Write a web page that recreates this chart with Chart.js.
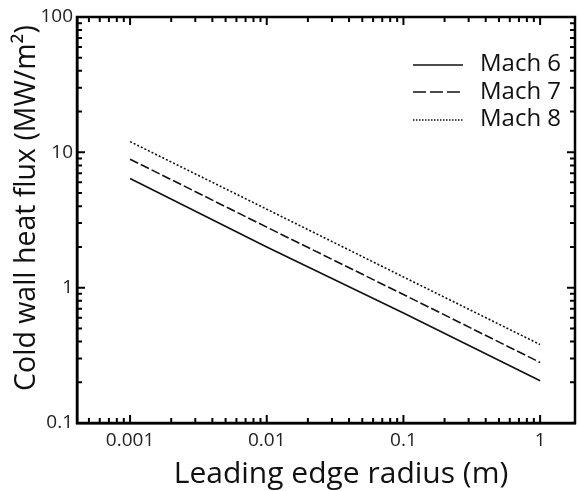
<!DOCTYPE html>
<html>
<head>
<meta charset="utf-8">
<script src="https://cdn.jsdelivr.net/npm/chart.js@4"></script>
<style>
html,body{margin:0;padding:0;background:#fff;}
#wrap{width:579px;height:491px;position:relative;}
</style>
</head>
<body>
<div id="wrap"><canvas id="c" width="579" height="491"></canvas></div>
<script>
// Data
const radius = [0.001, 0.01, 0.1, 1];
const mach6 = [6.4, 2.0, 0.65, 0.205];
const mach7 = [8.9, 2.8, 0.89, 0.28];
const mach8 = [12.0, 3.8, 1.2, 0.38];
const seriesNames = ['Mach 6', 'Mach 7', 'Mach 8'];
const xTickValues = [0.001, 0.01, 0.1, 1];
const xTickLabels = ['0.001', '0.01', '0.1', '1'];
const yTickValues = [0.1, 1, 10, 100];
const yTickLabels = ['0.1', '1', '10', '100'];
const xTitle = 'Leading edge radius (m)';
const yTitle = 'Cold wall heat flux (MW/m\u00B2)';

const FONT = '"Open Sans", "Liberation Sans", sans-serif';
const toPts = (ys) => radius.map((x, i) => ({x: x, y: ys[i]}));

const styles = [
  {borderDash: [], legendDash: []},
  {borderDash: [9, 3], legendDash: [13, 4]},
  {borderDash: [2, 2], legendDash: [1.5, 1.5]}
];

const datasets = [mach6, mach7, mach8].map((ys, i) => ({
  label: seriesNames[i],
  data: toPts(ys),
  borderColor: '#111',
  borderWidth: 1.6,
  borderDash: styles[i].borderDash,
  pointRadius: 0,
  fill: false,
  tension: 0
}));

const decorPlugin = {
  id: 'decor',
  afterDraw(chart) {
    const ctx = chart.ctx;
    const a = chart.chartArea;
    const xs = chart.scales.x, ys = chart.scales.y;
    ctx.save();
    // frame
    ctx.strokeStyle = '#000';
    ctx.lineWidth = 2.5;
    ctx.strokeRect(a.left, a.top, a.right - a.left, a.bottom - a.top);
    // ticks inward on all sides
    ctx.lineWidth = 2;
    const major = 8, minor = 5;
    function xTick(v, len) {
      const p = xs.getPixelForValue(v);
      if (p < a.left + 1 || p > a.right - 1) return;
      ctx.beginPath();
      ctx.moveTo(p, a.bottom); ctx.lineTo(p, a.bottom - len);
      ctx.moveTo(p, a.top); ctx.lineTo(p, a.top + len);
      ctx.stroke();
    }
    function yTick(v, len) {
      const p = ys.getPixelForValue(v);
      if (p < a.top + 1 || p > a.bottom - 1) return;
      ctx.beginPath();
      ctx.moveTo(a.left, p); ctx.lineTo(a.left + len, p);
      ctx.moveTo(a.right, p); ctx.lineTo(a.right - len, p);
      ctx.stroke();
    }
    for (let e = -4; e <= 0; e++) {
      for (let m = 1; m <= 9; m++) {
        xTick(m * Math.pow(10, e), m === 1 ? major : minor);
      }
    }
    for (let e = -1; e <= 1; e++) {
      for (let m = 1; m <= 9; m++) {
        yTick(m * Math.pow(10, e), m === 1 ? major : minor);
      }
    }
    // axis titles
    ctx.fillStyle = '#111';
    ctx.font = '30px ' + FONT;
    ctx.textAlign = 'center';
    ctx.textBaseline = 'alphabetic';
    ctx.fillText(xTitle, 341, 483);
    ctx.save();
    ctx.font = '28.5px ' + FONT;
    ctx.translate(35, 208);
    ctx.rotate(-Math.PI / 2);
    ctx.fillText(yTitle, 0, 0);
    ctx.restore();
    // legend
    const lineY = [65, 92, 120];
    const textY = [71, 99, 126];
    chart.data.datasets.forEach((d, i) => {
      ctx.save();
      ctx.strokeStyle = '#111';
      ctx.lineWidth = 1.6;
      ctx.setLineDash(styles[i].legendDash);
      ctx.beginPath();
      ctx.moveTo(413, lineY[i]); ctx.lineTo(463, lineY[i]);
      ctx.stroke();
      ctx.restore();
      ctx.font = '24px ' + FONT;
      ctx.textAlign = 'left';
      ctx.textBaseline = 'alphabetic';
      ctx.fillStyle = '#111';
      ctx.fillText(d.label, 480, textY[i]);
    });
    ctx.restore();
  }
};

new Chart(document.getElementById('c'), {
  type: 'line',
  data: {datasets: datasets},
  options: {
    responsive: false,
    animation: false,
    devicePixelRatio: 1,
    layout: {padding: {top: 17, right: 4, left: 0, bottom: 0}},
    plugins: {legend: {display: false}, tooltip: {enabled: false}},
    scales: {
      x: {
        type: 'logarithmic',
        min: 0.000409,
        max: 1.80,
        grid: {display: false, drawTicks: false},
        border: {display: true, color: '#000', width: 2.5},
        afterBuildTicks: (s) => { s.ticks = xTickValues.map(v => ({value: v})); },
        afterFit: (s) => { s.height = 68; },
        ticks: {
          autoSkip: false, maxRotation: 0, padding: 6,
          color: '#222', font: {family: FONT, size: 19},
          callback: (v) => { const i = xTickValues.findIndex(t => Math.abs(t - v) / t < 1e-6); return i >= 0 ? xTickLabels[i] : ''; }
        }
      },
      y: {
        type: 'logarithmic',
        min: 0.1,
        max: 100,
        grid: {display: false, drawTicks: false},
        border: {display: true, color: '#000', width: 2.5},
        afterBuildTicks: (s) => { s.ticks = yTickValues.map(v => ({value: v})); },
        afterFit: (s) => { s.width = 77; },
        ticks: {
          autoSkip: false, padding: 4,
          color: '#222', font: {family: FONT, size: 19},
          callback: (v) => { const i = yTickValues.findIndex(t => Math.abs(t - v) / t < 1e-6); return i >= 0 ? yTickLabels[i] : ''; }
        }
      }
    }
  },
  plugins: [decorPlugin]
});
</script>
</body>
</html>
